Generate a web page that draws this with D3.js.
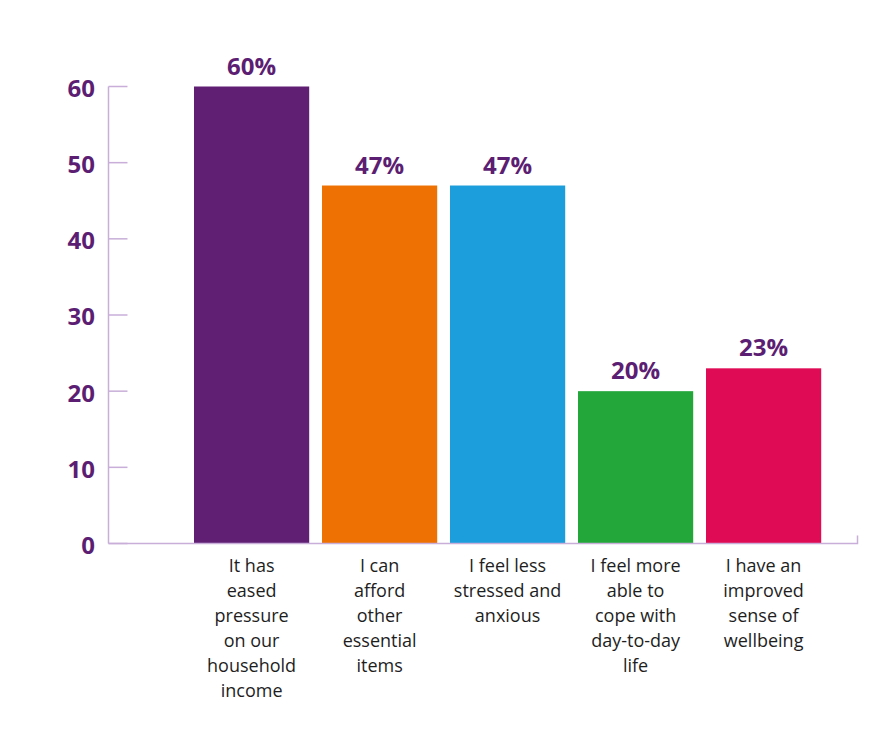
<!DOCTYPE html>
<html>
<head>
<meta charset="utf-8">
<script src="https://cdn.jsdelivr.net/npm/d3@7"></script>
<style>
  body { margin: 0; background: #fff; }
  svg { display: block; font-family: "Open Sans", "DejaVu Sans", sans-serif; }
</style>
</head>
<body>
<svg width="895" height="737"></svg>
<script>
var categories = [
  ["It has", "eased", "pressure", "on our", "household", "income"],
  ["I can", "afford", "other", "essential", "items"],
  ["I feel less", "stressed and", "anxious"],
  ["I feel more", "able to", "cope with", "day-to-day", "life"],
  ["I have an", "improved", "sense of", "wellbeing"]
];
var values = [60, 47, 47, 20, 23];
var colors = ["#611f74", "#ee7203", "#1b9edb", "#23a73b", "#e00b55"];
var yTicks = [0, 10, 20, 30, 40, 50, 60];

var purple = "#5c1e73";
var axisColor = "#c8aed8";

var svg = d3.select('svg');

var x = d3.scaleBand()
  .domain(d3.range(values.length))
  .range([187.6, 827.6])
  .paddingInner(0.1)
  .paddingOuter(0.05);

var y = d3.scaleLinear()
  .domain([0, 60])
  .range([543.5, 86.5]);

// y axis line and inner ticks
var axisX = 108.5;
svg.append('line')
  .attr('x1', axisX).attr('x2', axisX)
  .attr('y1', y(60)).attr('y2', y(0))
  .attr('stroke', axisColor).attr('stroke-width', 1.5);

svg.selectAll('.ytick').data(yTicks).enter().append('line')
  .attr('class', 'ytick')
  .attr('x1', axisX).attr('x2', axisX + 19)
  .attr('y1', function(d) {return y(d);})
  .attr('y2', function(d) {return y(d);})
  .attr('stroke', axisColor).attr('stroke-width', 1.5);

svg.selectAll('.ylabel').data(yTicks).enter().append('text')
  .attr('class', 'ylabel')
  .attr('x', 95)
  .attr('y', function(d) {return y(d) + 4;})
  .attr('text-anchor', 'end')
  .attr('dominant-baseline', 'middle')
  .attr('fill', purple)
  .attr('font-size', 24)
  .attr('font-weight', 'bold')
  .text(function(d) {return d;});

// bars
svg.selectAll('.bar').data(values).enter().append('rect')
  .attr('class', 'bar')
  .attr('x', function(d, i) {return x(i);})
  .attr('width', x.bandwidth())
  .attr('y', function(d) {return y(d);})
  .attr('height', function(d) {return y(0) - y(d);})
  .attr('fill', function(d, i) {return colors[i];});

// x axis line with end tick
var xEnd = 857.5;
svg.append('path')
  .attr('d', 'M' + axisX + ',' + y(0) + 'H' + xEnd + 'V' + (y(0) - 8))
  .attr('fill', 'none')
  .attr('stroke', axisColor).attr('stroke-width', 1.5);

// value labels
svg.selectAll('.value').data(values).enter().append('text')
  .attr('class', 'value')
  .attr('x', function(d, i) {return x(i) + x.bandwidth() / 2;})
  .attr('y', function(d) {return y(d) - 12;})
  .attr('text-anchor', 'middle')
  .attr('fill', purple)
  .attr('font-size', 24)
  .attr('font-weight', 'bold')
  .text(function(d) {return d + '%';});

// category labels
var cat = svg.selectAll('.cat').data(categories).enter().append('text')
  .attr('class', 'cat')
  .attr('text-anchor', 'middle')
  .attr('fill', '#1e1e1e')
  .attr('font-size', 18);

cat.selectAll('tspan').data(function(d, i) {
    return d.map(function(s) {return {s: s, i: i};});
  }).enter().append('tspan')
  .attr('x', function(d) {return x(d.i) + x.bandwidth() / 2;})
  .attr('y', function(d, j) {return 572 + j * 25;})
  .text(function(d) {return d.s;});
</script>
</body>
</html>
